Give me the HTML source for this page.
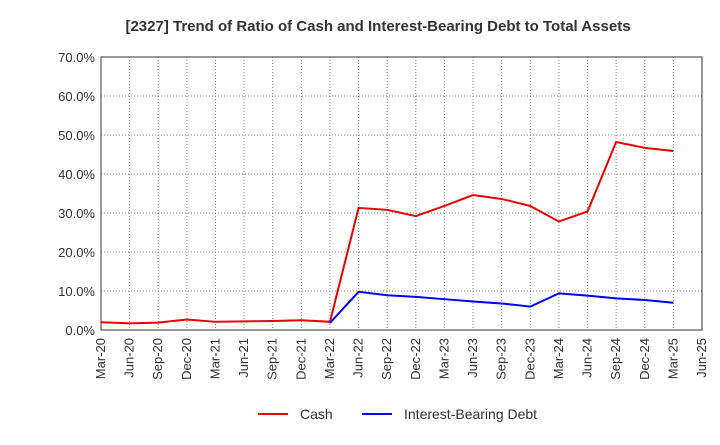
<!DOCTYPE html>
<html><head><meta charset="utf-8"><style>
body{margin:0;background:#fff;font-family:"Liberation Sans",sans-serif;}
</style></head><body>
<svg id="chart" width="720" height="440" xmlns="http://www.w3.org/2000/svg">
<text x="378" y="31" text-anchor="middle" font-size="15" font-weight="bold" fill="#333">[2327]  Trend of Ratio of Cash and Interest-Bearing Debt to Total Assets</text>
<g id="grid"></g><g id="axes"></g><g id="series"></g>
<g>
<line x1="258" y1="414" x2="288" y2="414" stroke="#e00" stroke-width="2"/>
<text x="300" y="419" font-size="14" fill="#333">Cash</text>
<line x1="362" y1="414" x2="392" y2="414" stroke="#00f" stroke-width="2"/>
<text x="404" y="419" font-size="14" fill="#333">Interest-Bearing Debt</text>
</g>
</svg>
<script>
const categories=["Mar-20","Jun-20","Sep-20","Dec-20","Mar-21","Jun-21","Sep-21","Dec-21","Mar-22","Jun-22","Sep-22","Dec-22","Mar-23","Jun-23","Sep-23","Dec-23","Mar-24","Jun-24","Sep-24","Dec-24","Mar-25","Jun-25"];
const cashValues=[2.0,1.7,1.9,2.7,2.1,2.2,2.3,2.5,2.1,31.3,30.8,29.2,31.8,34.6,33.6,31.8,27.8,30.4,48.2,46.7,45.9];
const debtValues=[null,null,null,null,null,null,null,null,1.8,9.8,8.9,8.5,7.9,7.3,6.8,6.0,9.4,8.8,8.1,7.7,7.0];
const yTicks=[0,10,20,30,40,50,60,70];
const NS="http://www.w3.org/2000/svg";
const L=101,R=702,T=57,B=330;
const x=i=>L+i*(R-L)/(categories.length-1);
const y=v=>B-v*(B-T)/70;
function mk(tag,attrs,parent){const e=document.createElementNS(NS,tag);for(const k in attrs)e.setAttribute(k,attrs[k]);document.getElementById(parent).appendChild(e);return e;}
yTicks.forEach(t=>{
 const g=mk("line",{x1:L,x2:R,y1:y(t),y2:y(t),stroke:"#888","stroke-dasharray":"1,2","stroke-width":1},"grid");
 
 
 const tx=mk("text",{x:L-6,y:y(t)+5,"text-anchor":"end","font-size":13,fill:"#333"},"axes");
 tx.textContent=t.toFixed(1)+"%";
 
 
});
categories.forEach((c,i)=>{
 const g=mk("line",{x1:x(i),x2:x(i),y1:T,y2:B,stroke:"#888","stroke-dasharray":"1,2","stroke-width":1},"grid");
 
 
 const tx=mk("text",{x:x(i)+4,y:B+8,"text-anchor":"end","font-size":13,fill:"#333",transform:`rotate(-90 ${x(i)+4} ${B+8})`},"axes");
 tx.textContent=c;
 
 
});
const frame=mk("rect",{x:L,y:T,width:R-L,height:B-T,fill:"none",stroke:"#333","stroke-width":1},"axes");


function line(vals,color,name){
 let d="";vals.forEach((v,i)=>{if(v==null)return;d+=(d?"L":"M")+x(i)+","+y(v);});
 const p=mk("path",{d:d,fill:"none",stroke:color,"stroke-width":2},"series");
 
 
}
line(cashValues,"#e00","cash-line");
line(debtValues,"#00f","debt-line");
</script>
</body></html>
